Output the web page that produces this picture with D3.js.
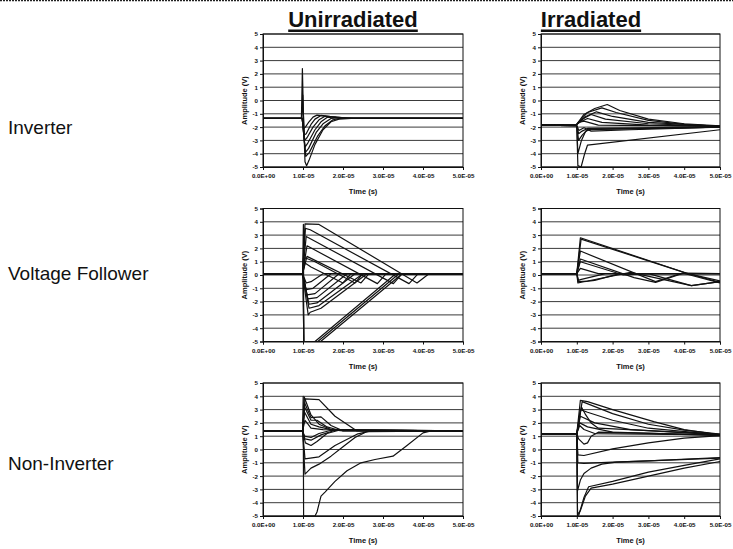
<!DOCTYPE html>
<html><head><meta charset="utf-8">
<script src="https://cdn.jsdelivr.net/npm/d3@7"></script>
<style>
body{margin:0;background:#fff;}
svg{display:block;font-family:"Liberation Sans",Arial,sans-serif;}
</style></head>
<body>
<svg id="c" width="733" height="549"></svg>
<script>
// ---- DATA (time in microseconds, amplitude in volts) ----
const columnTitles = ["Unirradiated", "Irradiated"];
const rowTitles = ["Inverter", "Voltage Follower", "Non-Inverter"];
const xTickValues = [0, 10, 20, 30, 40, 50];
const xTickLabels = ["0.0E+00", "1.0E-05", "2.0E-05", "3.0E-05", "4.0E-05", "5.0E-05"];
const yTickValues = [5, 4, 3, 2, 1, 0, -1, -2, -3, -4, -5];
const xTitle = "Time (s)";
const yTitle = "Amplitude (V)";

const invUnirr = [
 [[0,-1.35],[9.8,-1.35],[10.2,-2.1],[10.6,-2.0],[11.5,-1.6],[12.5,-1.25],[13.5,-1.1],[15,-1.15],[17,-1.3],[50,-1.35]],
 [[0,-1.35],[9.8,-1.35],[10.3,-2.6],[10.8,-2.5],[12,-1.8],[13,-1.4],[14.5,-1.12],[16.5,-1.2],[19,-1.32],[50,-1.35]],
 [[0,-1.35],[9.7,-1.35],[9.95,0.4],[10.15,-1.5],[10.4,-3.0],[11,-2.8],[12.5,-2.0],[14,-1.45],[15.5,-1.18],[17.5,-1.22],[20,-1.33],[50,-1.35]],
 [[0,-1.35],[9.8,-1.35],[10.5,-3.5],[11.2,-3.2],[13,-2.2],[14.5,-1.6],[16,-1.28],[18,-1.22],[21,-1.35],[50,-1.35]],
 [[0,-1.35],[9.8,-1.35],[10.6,-3.9],[11.4,-3.6],[13.3,-2.4],[15,-1.75],[17,-1.35],[19,-1.26],[22,-1.35],[50,-1.35]],
 [[0,-1.35],[9.8,-1.35],[10.7,-4.2],[11.6,-3.9],[13.6,-2.7],[15.5,-1.9],[17.5,-1.45],[20,-1.3],[22.5,-1.35],[50,-1.35]],
 [[0,-1.35],[9.6,-1.35],[9.85,2.4],[10.1,-1.0],[10.5,-4.6],[10.9,-4.9],[11.5,-4.5],[13,-3.3],[15,-2.2],[17,-1.6],[19,-1.4],[22,-1.35],[50,-1.35]]
];

const invIrr = [
 [[0,-1.85],[9.8,-1.85],[12,-1.05],[15,-0.6],[18.5,-0.3],[22,-0.75],[30,-1.4],[40,-1.75],[50,-1.9]],
 [[0,-1.85],[9.8,-1.85],[13,-0.9],[17,-0.55],[21,-0.9],[30,-1.5],[40,-1.8],[50,-1.95]],
 [[0,-1.85],[9.8,-1.85],[12.5,-1.2],[15.5,-0.85],[20,-1.2],[30,-1.65],[50,-1.95]],
 [[0,-1.85],[9.8,-1.85],[11.5,-1.4],[14,-1.05],[18,-1.4],[30,-1.75],[50,-1.95]],
 [[0,-1.85],[9.8,-1.85],[11,-1.6],[13,-1.35],[17,-1.65],[30,-1.85],[50,-1.95]],
 [[0,-1.85],[9.8,-1.85],[10.5,-1.65],[12,-1.55],[16,-1.85],[50,-1.95]],
 [[0,-1.85],[10,-1.9],[10.3,-4.9],[11.2,-5.0],[12.2,-4.0],[13,-3.35],[50,-2.2]],
 [[0,-1.85],[10,-1.9],[10.3,-4.0],[11.3,-3.0],[12.5,-2.3],[14,-2.15],[30,-2.1],[50,-2.0]],
 [[0,-1.85],[10,-1.9],[10.5,-3.0],[11.5,-2.6],[13,-2.2],[20,-2.15],[50,-2.0]],
 [[0,-1.85],[10,-1.9],[10.5,-2.5],[11.5,-2.3],[13,-2.1],[50,-2.0]],
 [[0,-1.85],[10,-1.9],[10.6,-2.25],[12,-2.05],[14,-2.3],[25,-2.2],[50,-2.0]]
];

const vfUnirr = [
 [[0,0.1],[9.9,0.1],[10.5,3.85],[14,3.8],[38.5,-0.6],[41.5,0.1],[50,0.1]],
 [[0,0.1],[9.9,0.1],[10.6,3.5],[11.8,3.4],[36.5,-0.65],[38.8,0.1],[50,0.1]],
 [[0,0.1],[9.9,0.1],[10.8,2.9],[32.6,-0.65],[34.8,0.1],[50,0.1]],
 [[0,0.1],[9.9,0.1],[11,2.2],[28.6,-0.65],[30.8,0.1],[50,0.1]],
 [[0,0.1],[9.9,0.1],[11,1.4],[24.5,-0.6],[26.5,0.1],[50,0.1]],
 [[0,0.1],[9.9,0.1],[10.5,1.3],[13,1.0],[23,-0.6],[25,0.1],[50,0.1]],
 [[0,0.1],[9.9,0.1],[10.5,0.9],[12,0.6],[20,-0.6],[22,0.1],[50,0.1]],
 [[0,0.1],[9.9,0.1],[10.8,-0.6],[12,-0.5],[15,0.1],[50,0.1]],
 [[0,0.1],[9.9,0.1],[10.8,-1.1],[12.5,-1.0],[17,0.1],[50,0.1]],
 [[0,0.1],[9.9,0.1],[11,-1.5],[13,-1.4],[19,0.1],[50,0.1]],
 [[0,0.1],[9.9,0.1],[11.2,-1.8],[13.5,-1.7],[21,0.1],[50,0.1]],
 [[0,0.1],[9.9,0.1],[11.5,-2.2],[13.5,-2.1],[23,0.1],[50,0.1]],
 [[0,0.1],[9.9,0.1],[11.5,-2.5],[14,-2.3],[25,0.1],[50,0.1]],
 [[0,0.1],[9.9,0.1],[11.3,-3.0],[11.8,-2.8],[14.5,-2.5],[26,0.1],[50,0.1]],
 [[0,0.1],[9.9,0.1],[10.1,3.8],[10.2,-5],[13,-5],[33.2,0.1],[50,0.1]],
 [[0,0.1],[10,0.1],[10.2,-5],[13.7,-5],[34,0.1],[50,0.1]],
 [[0,0.1],[10,0.1],[10.2,-5],[14.4,-5],[34.8,0.1],[50,0.1]]
];

const vfIrr = [
 [[0,0.1],[10,0.1],[11,2.8],[40.5,0.15],[50,-0.55]],
 [[0,0.1],[10,0.1],[11.2,2.7],[41,0.1],[50,-0.45]],
 [[0,0.1],[10,0.1],[11,1.8],[32,-0.5],[39.5,0.15],[50,-0.6]],
 [[0,0.1],[10,0.1],[11,1.2],[26,-0.2],[32,-0.55],[40,0.15],[50,0.1]],
 [[0,0.1],[10,0.1],[11,1.0],[23,0.0],[30,0.1],[42,-0.8],[50,-0.5]],
 [[0,0.1],[10,0.1],[11,0.5],[16,0.1],[50,0.1]],
 [[0,0.1],[10,0.1],[10.3,-0.6],[12,-0.5],[15,-0.4],[22,0.1],[50,0.1]],
 [[0,0.1],[10,0.1],[10.4,-0.5],[13,-0.45],[25,0.2],[42,-0.8],[50,-0.5]],
 [[0,0.1],[10,0.1],[10.5,-0.4],[11,-0.35],[18,0.1],[50,0.1]]
];

const niUnirr = [
 [[0,1.4],[9.9,1.4],[10.5,3.8],[14,3.75],[18,2.5],[23.5,1.4],[50,1.4]],
 [[0,1.4],[9.9,1.4],[10.3,3.95],[12,2.6],[14,1.9],[17,1.5],[20,1.4],[50,1.4]],
 [[0,1.4],[9.9,1.4],[10.4,3.5],[12,2.4],[14.5,2.45],[17,1.8],[20,1.4],[50,1.4]],
 [[0,1.4],[9.9,1.4],[10.4,3.2],[12,2.2],[13.5,2.2],[16,1.7],[19,1.45],[50,1.4]],
 [[0,1.4],[9.9,1.4],[10.4,2.8],[12,1.9],[14,1.7],[17,1.5],[50,1.4]],
 [[0,1.4],[9.9,1.4],[10.5,2.2],[12,1.6],[15,1.5],[50,1.4]],
 [[0,1.4],[9.9,1.4],[10.4,1.0],[12,0.9],[14,1.2],[17,1.45],[50,1.4]],
 [[0,1.4],[9.9,1.4],[10.5,0.8],[12,0.7],[14.5,1.1],[18,1.45],[50,1.4]],
 [[0,1.4],[9.9,1.4],[10.6,0.5],[12,0.3],[13.5,0.6],[16,1.2],[19,1.45],[50,1.4]],
 [[0,1.4],[9.9,1.4],[10.5,-0.7],[14,-0.55],[18,0.3],[23.5,1.15],[27,1.4],[50,1.4]],
 [[0,1.4],[9.9,1.4],[10.5,-1.85],[12,-1.4],[14,-1.1],[17,-0.5],[20,0.2],[23,0.9],[26,1.35],[50,1.4]],
 [[0,1.4],[9.9,1.4],[10.05,4.0],[10.15,-5],[13,-5],[13.5,-4.7],[14.5,-3.5],[15.5,-3.2],[18,-2.4],[21,-1.6],[24.5,-1.0],[28,-0.75],[32.5,-0.5],[36,0.3],[40,1.25],[42,1.4],[50,1.4]]
];

const niIrr = [
 [[0,1.2],[10,1.2],[11,3.7],[13,3.6],[20,3.0],[31.5,2.1],[40,1.5],[50,1.1]],
 [[0,1.2],[10,1.2],[11.5,3.6],[20,2.7],[30,1.9],[40,1.45],[50,1.15]],
 [[0,1.2],[10,1.2],[11,3.0],[13,2.8],[20,2.2],[30,1.6],[50,1.1]],
 [[0,1.2],[10,1.2],[11,2.5],[15,2.0],[25,1.5],[50,1.1]],
 [[0,1.2],[10,1.2],[10.8,2.0],[13,1.7],[20,1.3],[50,1.05]],
 [[0,1.2],[10,1.2],[10.8,1.8],[12,1.5],[15,1.2],[50,1.1]],
 [[0,1.2],[10,1.2],[11.3,3.2],[12.5,2.6],[14,2.0],[16,1.6],[50,1.15]],
 [[0,1.2],[10,1.2],[10.5,0.8],[12,0.4],[13,0.5],[14,1.0],[16,1.3],[50,1.1]],
 [[0,1.2],[10,1.2],[10.3,-0.4],[12,-0.45],[20,0.05],[30,0.5],[40,0.85],[50,1.05]],
 [[0,1.2],[10,1.2],[10.3,-1.0],[12,-1.05],[20,-0.95],[30,-0.85],[50,-0.65]],
 [[0,1.2],[10,1.2],[10.2,-3.1],[11,-2.3],[12,-1.8],[14,-1.4],[17,-1.1],[21,-0.95],[30,-0.85],[50,-0.6]],
 [[0,1.2],[10,1.2],[10.2,-5],[10.6,-4.9],[12,-3.6],[13.3,-2.8],[20,-2.4],[30,-1.7],[40,-1.2],[50,-0.7]],
 [[0,1.2],[10,1.2],[10.2,-4.9],[11,-4.6],[12.4,-3.5],[14,-2.9],[20,-2.6],[30,-2.0],[40,-1.4],[50,-0.9]]
];

const panelData = [[invUnirr, invIrr], [vfUnirr, vfIrr], [niUnirr, niIrr]];

// ---- LAYOUT ----
const svg = d3.select("#c");
const colX = [263, 541];
const colW = [200, 179];
const rowY = [34, 208.5, 383];
const plotH = 133;
const colTitleX = [353, 591];
const rowLabelY = [134, 280, 470];

// top dotted border
svg.append("line").attr("x1", 0).attr("x2", 733).attr("y1", 0.5).attr("y2", 0.5)
  .attr("stroke", "#222").attr("stroke-width", 1.5).attr("stroke-dasharray", "2,1");

columnTitles.forEach((t, i) => {
  const tx = svg.append("text").attr("x", colTitleX[i]).attr("y", 27)
    .attr("text-anchor", "middle").attr("font-size", 22).attr("font-weight", "bold")
    .attr("fill", "#111").text(t);
  const bb = tx.node().getBBox();
  svg.append("rect").attr("x", bb.x).attr("y", 29.5).attr("width", bb.width).attr("height", 2.5).attr("fill", "#111");
});

rowTitles.forEach((t, i) => {
  svg.append("text").attr("x", 8).attr("y", rowLabelY[i]).attr("font-size", 19)
    .attr("fill", "#111").text(t);
});

const line = (x, y) => d3.line().x(d => x(d[0])).y(d => y(d[1]));

panelData.forEach((row, r) => {
  row.forEach((traces, c) => {
    const w = colW[c], h = plotH;
    const g = svg.append("g").attr("transform", `translate(${colX[c]},${rowY[r]})`);
    const x = d3.scaleLinear().domain([0, 50]).range([0, w]);
    const y = d3.scaleLinear().domain([-5, 5]).range([h, 0]);
    const cid = `clip${r}${c}`;
    g.append("clipPath").attr("id", cid).append("rect").attr("x", 0).attr("y", -0.5).attr("width", w).attr("height", h + 1);

    g.append("g").selectAll("line").data(yTickValues).join("line")
      .attr("x1", 0).attr("x2", w).attr("y1", d => y(d)).attr("y2", d => y(d))
      .attr("stroke", "#3a3a3a").attr("stroke-width", 1);

    g.append("g").attr("clip-path", `url(#${cid})`).selectAll("path").data(traces).join("path")
      .attr("d", line(x, y)).attr("fill", "none").attr("stroke", "#111")
      .attr("stroke-width", 1.2).attr("stroke-linejoin", "round");

    g.append("rect").attr("x", 0).attr("y", 0).attr("width", w).attr("height", h)
      .attr("fill", "none").attr("stroke", "#111").attr("stroke-width", 1);

    const ya = g.append("g").call(d3.axisLeft(y).tickValues(yTickValues).tickSize(3).tickPadding(2).tickFormat(d => String(d)));
    const xa = g.append("g").attr("transform", `translate(0,${h})`)
      .call(d3.axisBottom(x).tickValues(xTickValues).tickSize(3).tickPadding(4).tickFormat((d, i) => xTickLabels[i]));
    [ya, xa].forEach(a => {
      a.select(".domain").attr("stroke", "#111");
      a.selectAll(".tick line").attr("stroke", "#111");
      a.selectAll("text").attr("font-size", 6.2).attr("font-weight", "bold").attr("fill", "#111")
        .attr("font-family", "'Liberation Sans',Arial,sans-serif");
    });

    g.append("text").attr("x", w / 2).attr("y", h + 27).attr("text-anchor", "middle")
      .attr("font-size", 7.5).attr("font-weight", "bold").attr("fill", "#111").text(xTitle);
    g.append("text").attr("transform", `translate(${-16},${h / 2}) rotate(-90)`)
      .attr("text-anchor", "middle").attr("font-size", 7.5).attr("font-weight", "bold")
      .attr("fill", "#111").text(yTitle);
  });
});
</script>
</body></html>
